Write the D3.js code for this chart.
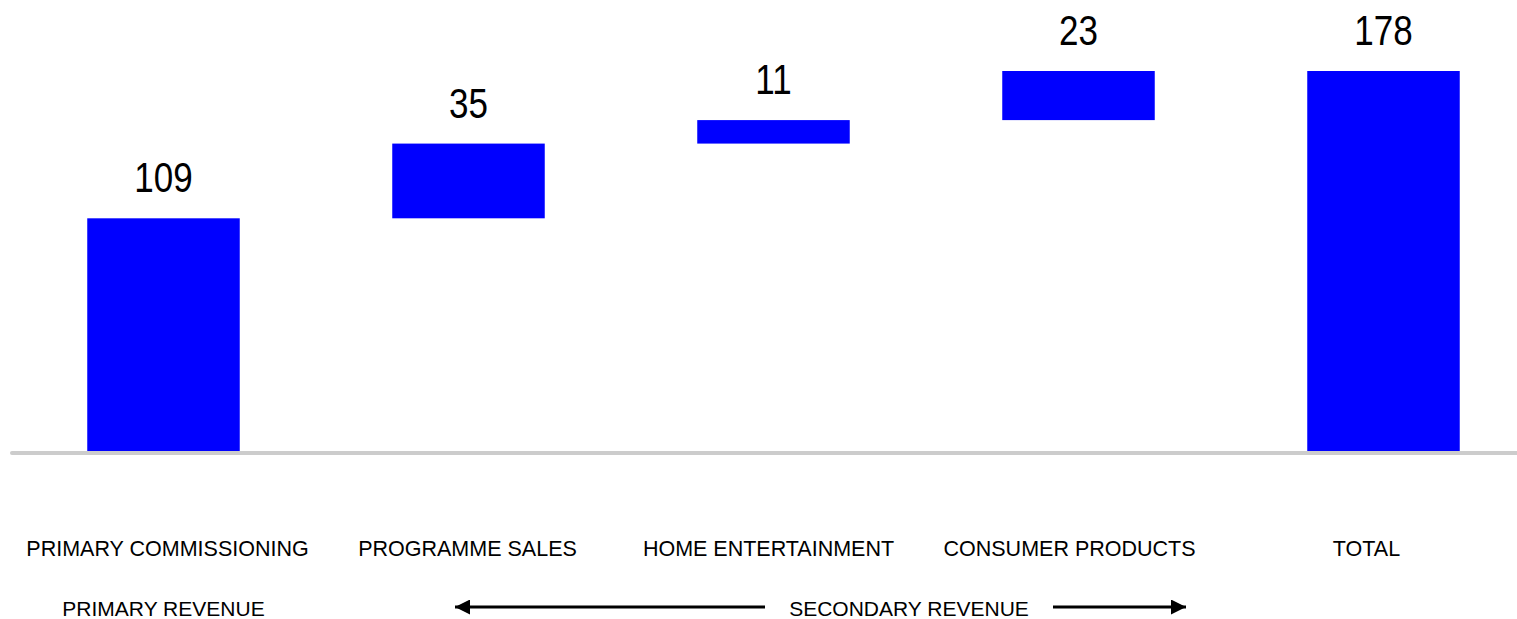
<!DOCTYPE html>
<html>
<head>
<meta charset="utf-8">
<script src="https://cdn.jsdelivr.net/npm/d3@7"></script>
<style>
  html, body { margin: 0; padding: 0; background: #fff; }
  svg { display: block; }
  text { font-family: "Liberation Sans", Arial, sans-serif; fill: #000; }
</style>
</head>
<body>
<svg id="chart" width="1517" height="619"></svg>
<script>
// Revenue build-up (waterfall)
const categories = ["PRIMARY COMMISSIONING", "PROGRAMME SALES", "HOME ENTERTAINMENT", "CONSUMER PRODUCTS", "TOTAL"];
const values = [109, 35, 11, 23, 178];
const isTotal = [false, false, false, false, true];
const groupLabels = ["PRIMARY REVENUE", "SECONDARY REVENUE"];

// small horizontal nudges for the category captions
const captionNudge = [4, -1, -5, -9, -17];

const svg = d3.select("#chart");
const W = 1517;
const baseY = 451;

// running start/end for each step
let run = 0;
const steps = categories.map((c, i) => {
  let y0, y1;
  if (isTotal[i]) { y0 = 0; y1 = values[i]; run = values[i]; }
  else { y0 = run; y1 = run + values[i]; run = y1; }
  return { cat: c, value: values[i], y0, y1 };
});

const x = d3.scaleBand()
  .domain(categories)
  .range([11, 1536])
  .paddingInner(0.5)
  .paddingOuter(0.25);

const y = d3.scaleLinear()
  .domain([0, d3.max(steps, d => d.y1)])
  .range([baseY, 71]);

// bars
svg.append("g").selectAll("rect")
  .data(steps)
  .join("rect")
  .attr("x", d => x(d.cat))
  .attr("width", x.bandwidth())
  .attr("y", d => y(d.y1))
  .attr("height", d => y(d.y0) - y(d.y1))
  .attr("fill", "#0000ff");

// baseline
svg.append("line")
  .attr("x1", 12).attr("x2", W + 5)
  .attr("y1", 453).attr("y2", 453)
  .attr("stroke", "#cccccc")
  .attr("stroke-width", 4)
  .attr("stroke-linecap", "round");

// value labels (tall, narrow digits)
svg.append("g").selectAll("text")
  .data(steps)
  .join("text")
  .attr("text-anchor", "middle")
  .attr("font-size", 35)
  .attr("transform", d => `translate(${x(d.cat) + x.bandwidth() / 2},${y(d.y1) - 26}) scale(1,1.23)`)
  .text(d => d.value);

// category axis
const axis = d3.axisBottom(x).tickSize(0).tickPadding(0);
const gAxis = svg.append("g")
  .attr("transform", "translate(0,556)")
  .call(axis);
gAxis.select(".domain").remove();
gAxis.selectAll("text")
  .attr("font-size", 21.5)
  .attr("dy", 0)
  .attr("dx", (d, i) => captionNudge[i])
  .attr("font-family", "\"Liberation Sans\", Arial, sans-serif")
  .attr("fill", "#000");

// revenue groups
const rowY = 616;
svg.append("text")
  .attr("x", x(categories[0]) + x.bandwidth() / 2)
  .attr("y", rowY)
  .attr("text-anchor", "middle")
  .attr("font-size", 21)
  .text(groupLabels[0]);

svg.append("text")
  .attr("x", 909)
  .attr("y", rowY)
  .attr("text-anchor", "middle")
  .attr("font-size", 21)
  .text(groupLabels[1]);

// arrows
const defs = svg.append("defs");
defs.append("marker")
  .attr("id", "head")
  .attr("viewBox", "0 0 10 10")
  .attr("refX", 10).attr("refY", 5)
  .attr("markerWidth", 5.5).attr("markerHeight", 5)
  .attr("markerUnits", "strokeWidth")
  .attr("orient", "auto")
  .append("path")
  .attr("d", "M0,0 L10,5 L0,10 Z")
  .attr("fill", "#000");

const arrowY = 607;
svg.append("line")
  .attr("x1", 765).attr("x2", 455)
  .attr("y1", arrowY).attr("y2", arrowY)
  .attr("stroke", "#000").attr("stroke-width", 3)
  .attr("marker-end", "url(#head)");
svg.append("line")
  .attr("x1", 1053).attr("x2", 1186)
  .attr("y1", arrowY).attr("y2", arrowY)
  .attr("stroke", "#000").attr("stroke-width", 3)
  .attr("marker-end", "url(#head)");
</script>
</body>
</html>
